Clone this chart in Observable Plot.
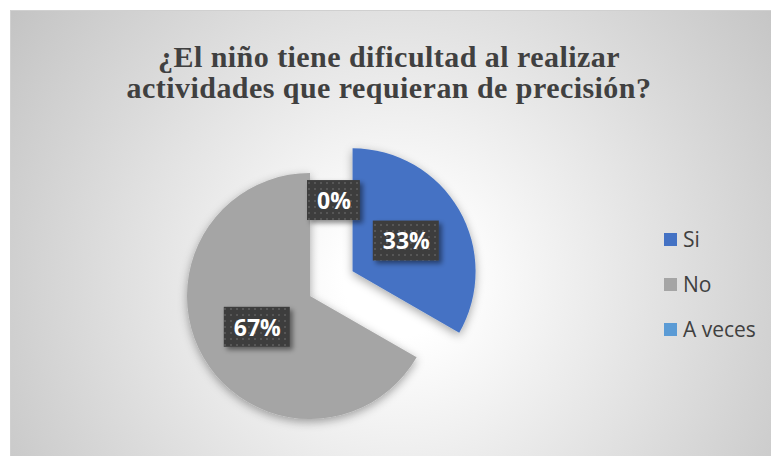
<!DOCTYPE html>
<html><head><meta charset="utf-8">
<script src="https://cdn.jsdelivr.net/npm/d3@7"></script>
<script src="https://cdn.jsdelivr.net/npm/@observablehq/plot@0.6"></script>
<style>body{margin:0;background:#fff}#chart svg{display:block}</style>
</head><body><div id="chart"></div>
<script>
// ---- data ----
const categories = ["Si", "No", "A veces"];
const values = [33.3, 66.7, 0];           // percent
const colors = ["#4472C4", "#A5A5A5", "#5B9BD5"];
const titleLines = ["¿El niño tiene dificultad al realizar", "actividades que requieran de precisión?"];

// ---- layout / style ----
const W = 771, H = 456;
const CX = 310, CY = 296, R = 123;
const EXPLODE = {"Si": 0.4};
const labelFont = "bold 23px 'Open Sans'";
const total = d3.sum(values);
const fmt = d3.format(".0%");

const canvas = document.createElement("canvas").getContext("2d");
canvas.font = labelFont;

const slices = d3.pie().sort(null).value(d => d.value)(
  categories.map((c, i) => ({category: c, value: values[i], color: colors[i]}))
).map(a => {
  const mid = (a.startAngle + a.endAngle) / 2;
  const e = EXPLODE[a.data.category] || 0;
  const ox = e * Math.sin(mid), oy = e * Math.cos(mid);
  const label = fmt(a.data.value / total);
  const tw = canvas.measureText(label).width;
  const bw = tw + 19, bh = 40;
  let lx, ly;
  if (a.data.value > 0) {
    lx = ox + 0.5 * Math.sin(mid);
    ly = oy + 0.5 * Math.cos(mid);
  } else {
    lx = (bw / 2 - 3) / R;
    ly = 0.78;
  }
  return {...a, category: a.data.category, color: a.data.color, ox, oy, lx, ly, label, bw, bh};
});

function backgroundMark(index, scales, values, dims) {
  const g = d3.create("svg:g");
  const defs = g.append("defs");
  const rg = defs.append("radialGradient").attr("id", "bg").attr("gradientUnits", "userSpaceOnUse")
    .attr("cx", 400).attr("cy", 280).attr("r", 470);
  rg.append("stop").attr("offset", "0.12").attr("stop-color", "#ffffff");
  rg.append("stop").attr("offset", "1").attr("stop-color", "#c4c4c4");
  const f = defs.append("filter").attr("id", "pieShadow").attr("x", "-30%").attr("y", "-30%").attr("width", "160%").attr("height", "160%");
  f.append("feDropShadow").attr("dx", 0).attr("dy", 3).attr("stdDeviation", 5).attr("flood-color", "#000").attr("flood-opacity", 0.35);
  const f2 = defs.append("filter").attr("id", "boxShadow").attr("x", "-30%").attr("y", "-30%").attr("width", "160%").attr("height", "160%");
  f2.append("feDropShadow").attr("dx", 3).attr("dy", 3).attr("stdDeviation", 2.5).attr("flood-color", "#000").attr("flood-opacity", 0.45);
  const p = defs.append("pattern").attr("id", "dots").attr("width", 6).attr("height", 6).attr("patternUnits", "userSpaceOnUse");
  p.append("rect").attr("width", 6).attr("height", 6).attr("fill", "#3d3d3d");
  p.append("rect").attr("x", 2).attr("y", 2).attr("width", 2).attr("height", 2).attr("fill", "#565656");
  g.append("rect").attr("width", dims.width).attr("height", dims.height).attr("fill", "#fff");
  g.append("rect").attr("x", 10.5).attr("y", 10.5).attr("width", dims.width).attr("height", dims.height)
    .attr("fill", "url(#bg)").attr("stroke", "#d0d0d0");
  return g.node();
}

function titleMark() {
  const g = d3.create("svg:g");
  titleLines.forEach((t, i) => g.append("text").attr("x", 389).attr("y", 67 + i * 30.5)
    .attr("style", "font-family:'Liberation Serif','Times New Roman',serif;font-weight:bold;font-size:30px;letter-spacing:0.45px;fill:#404040;text-anchor:middle")
    .text(t));
  return g.node();
}

function pieMark(index, {x, y}) {
  const r = x(1) - x(0);
  const arc = d3.arc().innerRadius(0).outerRadius(r);
  const g = d3.create("svg:g").attr("filter", "url(#pieShadow)");
  for (const s of slices) {
    if (s.endAngle - s.startAngle <= 0) continue;
    g.append("path").attr("transform", `translate(${x(s.ox)},${y(s.oy)})`).attr("d", arc(s)).attr("fill", s.color);
  }
  return g.node();
}

function labelBoxMark(index, {x, y}) {
  const g = d3.create("svg:g");
  for (const s of slices) {
    g.append("rect").attr("x", x(s.lx) - s.bw / 2).attr("y", y(s.ly) - s.bh / 2)
      .attr("width", s.bw).attr("height", s.bh).attr("fill", "url(#dots)").attr("filter", "url(#boxShadow)");
  }
  return g.node();
}

function legendMark() {
  const g = d3.create("svg:g");
  categories.forEach((c, i) => {
    const y0 = 233 + i * 45;
    g.append("rect").attr("x", 664).attr("y", y0).attr("width", 13).attr("height", 13).attr("fill", colors[i]);
    g.append("text").attr("x", 683).attr("y", y0 + 14)
      .attr("style", "font-family:'Open Sans',sans-serif;font-size:21px;fill:#404040;text-anchor:start")
      .text(c);
  });
  return g.node();
}

const chart = Plot.plot({
  width: W, height: H, margin: 0,
  x: {domain: [-1, 1], range: [CX - R, CX + R], axis: null},
  y: {domain: [-1, 1], range: [CY + R, CY - R], axis: null},
  style: {background: "transparent", overflow: "visible"},
  marks: [
    backgroundMark,
    titleMark,
    pieMark,
    labelBoxMark,
    Plot.text(slices, {x: "lx", y: "ly", text: "label", fill: "white", fontWeight: "bold",
      fontSize: 23, fontFamily: "'Open Sans', sans-serif", textAnchor: "middle", dy: 1}),
    legendMark
  ]
});
document.getElementById("chart").appendChild(chart);
</script>
</body></html>
